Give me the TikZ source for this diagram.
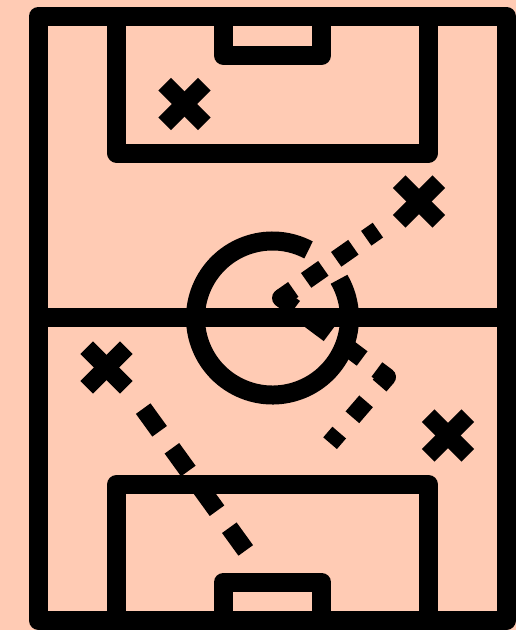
\documentclass[tikz,border=0pt]{standalone}
\usetikzlibrary{calc}
\definecolor{peach}{RGB}{255,203,180}
\begin{document}
\begin{tikzpicture}[x=1pt,y=-1pt,
  field/.style={line width=19pt, line join=round, line cap=butt},
  run/.style={line width=18pt, line join=round, line cap=butt},
  cross/.style={line width=18pt, line cap=butt}]
\fill[peach] (0,0) rectangle (516,630);
\useasboundingbox (0,0) rectangle (516,630);
% pitch
\draw[field] (38.6,16) rectangle (506.2,620.5);
\draw[field] (38.6,317.5) -- (506.2,317.5);
\draw[field] (116.5,16) -- (116.5,153) -- (428.5,153) -- (428.5,16);
\draw[field] (223.5,16) -- (223.5,55.5) -- (321.5,55.5) -- (321.5,16);
\draw[field] (116.5,620.5) -- (116.5,484.5) -- (428.5,484.5) -- (428.5,620.5);
\draw[field] (223.5,620.5) -- (223.5,582) -- (321.5,582) -- (321.5,620.5);
% centre circle with a gap
\coordinate (C) at (272.5,318);
\draw[field] (C) ++(-62.1:77) arc[start angle=-62.1, end angle=-390.2, radius=77];
% players
\coordinate (xa) at (184.5,104);
\coordinate (xb) at (419,201.5);
\coordinate (xc) at (448,435.5);
\coordinate (xd) at (106.5,367.5);
\foreach \c in {xa,xb,xc,xd}{
  \draw[cross] (\c) ++(-19.8,-19.8) -- ++(39.6,39.6);
  \draw[cross] (\c) ++(-19.8,19.8) -- ++(39.6,-39.6);
}
% runs
\coordinate (P) at (281,298);
\coordinate (Ue) at (378.3,229.8);
\coordinate (K) at (387,377);
\coordinate (Le) at (330,443.3);
\coordinate (Ls) at (143.2,408.6);
\coordinate (Lend) at (245.8,550.5);
\draw[run, dash pattern=on 15pt off 15.7pt on 21pt off 15.7pt on 21pt off 15.7pt on 14.2pt off 60pt] (P) -- (Ue);
\draw[run, dash pattern=on 17pt off 19pt on 24pt off 17.6pt on 23.6pt off 18.4pt on 23.9pt off 20.8pt on 21pt off 20.2pt on 14pt off 60pt] (P) -- (K) -- (Le);
\fill (P) circle[radius=9];
\draw[run, dash pattern=on 28pt off 21pt] (Ls) -- (Lend);
\end{tikzpicture}
\end{document}
